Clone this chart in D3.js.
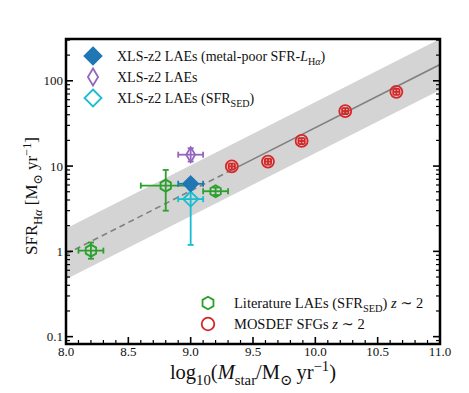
<!DOCTYPE html>
<meta charset="utf-8">
<script src="https://d3js.org/d3.v7.min.js"></script>
<style>
  body { margin: 0; background: #fff; }
  text { font-family: "Liberation Serif", "DejaVu Serif", serif; fill: #111; }
</style>
<div id="chart"></div>
<script>
    // data
    // MOSDEF SFGs z~2
    const mosdefMass = [9.33, 9.62, 9.89, 10.24, 10.65];
    const mosdefSfr = [9.9, 11.3, 19.7, 44.2, 74.3];
    const mosdefMassErr = [0.025, 0.025, 0.025, 0.025, 0.025];
    const mosdefSfrLo = [9.1, 10.4, 18.1, 40.7, 68.4];
    const mosdefSfrHi = [10.7, 12.2, 21.3, 47.9, 80.5];

    // Literature LAEs (SFR_SED)
    const litMass = [8.2, 8.8, 9.2];
    const litSfr = [1.02, 5.9, 5.07];
    const litMassErr = [0.1, 0.2, 0.1];
    const litSfrLo = [0.82, 3.0, 4.57];
    const litSfrHi = [1.27, 9.0, 5.6];

    // XLS-z2 LAEs
    const xlsMass = [9.0];
    const xlsMassErr = [0.1];
    const xlsSfr = [13.6];
    const xlsSfrLo = [11.3];
    const xlsSfrHi = [16.2];
    // metal-poor SFR-L_Ha
    const xlsMpSfr = [6.2];
    const xlsMpSfrLo = [5.5];
    const xlsMpSfrHi = [7.0];
    // SFR_SED
    const xlsSedSfr = [4.1];
    const xlsSedSfrLo = [1.19];
    const xlsSedSfrHi = [5.3];

    // main sequence fit and its scatter band
    const fitMass = [8.0, 9.3, 11.0];
    const fitSfr = [0.93, 8.55, 155];
    const bandMass = [8.0, 11.0];
    const bandLo = [0.47, 78];
    const bandHi = [1.86, 310];

    const xTicks = [8.0, 8.5, 9.0, 9.5, 10.0, 10.5, 11.0];
    const yTicks = [0.1, 1, 10, 100];

    const W = 469, H = 393;
    const box = {left: 66, right: 440, top: 39, bottom: 344};

    const svg = d3.select("#chart").append("svg")
        .attr("width", W).attr("height", H);

    const x = d3.scaleLinear().domain([8, 11]).range([box.left, box.right]);
    const y = d3.scaleLog().domain([0.082, 309]).range([box.bottom, box.top]);

    svg.append("clipPath").attr("id", "clip")
      .append("rect").attr("x", box.left).attr("y", box.top)
        .attr("width", box.right - box.left).attr("height", box.bottom - box.top);

    const plot = svg.append("g").attr("clip-path", "url(#clip)");

    // shaded band
    plot.append("path")
      .datum(bandMass.map((m, i) => ({m, lo: bandLo[i], hi: bandHi[i]})))
      .attr("fill", "#d4d4d4")
      .attr("d", d3.area().x(d => x(d.m)).y0(d => y(d.lo)).y1(d => y(d.hi)));

    // fit line: dashed below the MOSDEF mass range, solid above
    const fitLine = d3.line().x(d => x(d.m)).y(d => y(d.s));
    const fit = fitMass.map((m, i) => ({m, s: fitSfr[i]}));
    plot.append("path").datum(fit.slice(0, 2))
      .attr("fill", "none").attr("stroke", "#808080").attr("stroke-width", 1.6)
      .attr("stroke-dasharray", "6,4").attr("d", fitLine);
    plot.append("path").datum(fit.slice(1))
      .attr("fill", "none").attr("stroke", "#808080").attr("stroke-width", 1.6)
      .attr("d", fitLine);

    // marker shapes
    function markerPath(kind, s) {
      if (kind == "D") return `M0,${-s}L${s},0L0,${s}L${-s},0Z`;
      if (kind == "d") return `M0,${-s}L${s * 0.6},0L0,${s}L${-s * 0.6},0Z`;
      if (kind == "h") {
        const p = d3.range(6).map(k => {
          const a = Math.PI / 3 * k - Math.PI / 2;
          return [s * Math.cos(a), s * Math.sin(a)];
        });
        return "M" + p.join("L") + "Z";
      }
      return d3.arc()({innerRadius: 0, outerRadius: s, startAngle: 0, endAngle: 2 * Math.PI});
    }

    function drawSeries(opt) {
      const g = svg.append("g");
      const data = opt.mass.map((m, i) => ({
        m, s: opt.sfr[i], me: opt.massErr[i], lo: opt.lo[i], hi: opt.hi[i]
      }));
      const cap = opt.cap || 3;
      data.forEach(d => {
        const cx = x(d.m), cy = y(d.s);
        const e = g.append("g").attr("stroke", opt.color).attr("stroke-width", opt.ew || 1.8);
        e.append("line").attr("x1", x(d.m - d.me)).attr("x2", x(d.m + d.me)).attr("y1", cy).attr("y2", cy);
        e.append("line").attr("x1", cx).attr("x2", cx).attr("y1", y(d.lo)).attr("y2", y(d.hi));
        [x(d.m - d.me), x(d.m + d.me)].forEach(px =>
          e.append("line").attr("x1", px).attr("x2", px).attr("y1", cy - cap).attr("y2", cy + cap));
        [y(d.lo), y(d.hi)].forEach(py =>
          e.append("line").attr("x1", cx - cap).attr("x2", cx + cap).attr("y1", py).attr("y2", py));
        g.append("path")
          .attr("transform", `translate(${cx},${cy})`)
          .attr("d", markerPath(opt.kind, opt.size))
          .attr("fill", opt.filled ? opt.color : "none")
          .attr("stroke", opt.color).attr("stroke-width", opt.sw || 1.8);
      });
    }

    drawSeries({mass: litMass, sfr: litSfr, massErr: litMassErr, lo: litSfrLo, hi: litSfrHi,
      color: "#2ca02c", kind: "h", size: 6});
    drawSeries({mass: mosdefMass, sfr: mosdefSfr, massErr: mosdefMassErr, lo: mosdefSfrLo, hi: mosdefSfrHi,
      color: "#d62728", kind: "o", size: 6, cap: 3});
    drawSeries({mass: xlsMass, sfr: xlsSfr, massErr: xlsMassErr, lo: xlsSfrLo, hi: xlsSfrHi,
      color: "#9467bd", kind: "d", size: 7.5});
    drawSeries({mass: xlsMass, sfr: xlsSedSfr, massErr: xlsMassErr, lo: xlsSedSfrLo, hi: xlsSedSfrHi,
      color: "#17becf", kind: "D", size: 7.5});
    drawSeries({mass: xlsMass, sfr: xlsMpSfr, massErr: xlsMassErr, lo: xlsMpSfrLo, hi: xlsMpSfrHi,
      color: "#1f77b4", kind: "D", size: 7.5, filled: true});

    // ticks (inward, no top ticks)
    const ax = svg.append("g").attr("stroke", "#000");
    d3.range(80, 111).map(v => v / 10).forEach(v => {
      const major = xTicks.some(t => Math.abs(t - v) < 1e-6);
      ax.append("line").attr("x1", x(v)).attr("x2", x(v))
        .attr("y1", box.bottom).attr("y2", box.bottom - (major ? 7 : 4))
        .attr("stroke-width", major ? 1.6 : 1.2);
    });
    y.ticks().forEach(v => {
      const major = yTicks.some(t => Math.abs(Math.log10(t) - Math.log10(v)) < 1e-6);
      const len = major ? 7 : 4;
      ax.append("line").attr("x1", box.left).attr("x2", box.left + len)
        .attr("y1", y(v)).attr("y2", y(v)).attr("stroke-width", major ? 1.6 : 1.2);
      ax.append("line").attr("x1", box.right).attr("x2", box.right - len)
        .attr("y1", y(v)).attr("y2", y(v)).attr("stroke-width", major ? 1.6 : 1.2);
    });

    // frame
    svg.append("rect").attr("x", box.left).attr("y", box.top)
      .attr("width", box.right - box.left).attr("height", box.bottom - box.top)
      .attr("fill", "none").attr("stroke", "#000").attr("stroke-width", 2.5);

    // tick labels
    svg.append("g").selectAll("text").data(xTicks).join("text")
      .attr("x", d => x(d)).attr("y", box.bottom + 12)
      .attr("text-anchor", "middle").attr("font-size", 13)
      .text(d => d.toFixed(1));
    svg.append("g").selectAll("text").data(yTicks).join("text")
      .attr("x", box.left - 3).attr("y", d => y(d) + 4.5)
      .attr("text-anchor", "end").attr("font-size", 13)
      .text(d => d);

    // rich text helper: parts = [text, style] where style in "", "i", "sub", "sup", "subi"
    function rich(sel, parts, fs) {
      let shift = 0;
      parts.forEach(([t, st]) => {
        const ts = sel.append("tspan").text(t);
        let target = 0;
        if (st.includes("sub")) target = fs * 0.3;
        if (st.includes("sup")) target = -fs * 0.38;
        ts.attr("dy", target - shift);
        shift = target;
        if (st.includes("sub") || st.includes("sup")) ts.attr("font-size", fs * 0.72);
        if (st.includes("i")) ts.attr("font-style", "italic");
      });
      return sel;
    }

    // axis titles
    rich(svg.append("text").attr("x", 253).attr("y", 379)
      .attr("text-anchor", "middle").attr("font-size", 20.5),
      [["log", ""], ["10", "sub"], ["(", ""], ["M", "i"], ["star", "sub"], ["/M", ""], ["⊙", "sub"],
       ["\u2009yr", ""], ["−1", "sup"], [")", ""]], 20.5);

    rich(svg.append("text").attr("transform", "translate(37,196) rotate(-90)")
      .attr("text-anchor", "middle").attr("font-size", 17),
      [["SFR", ""], ["H", "sub"], ["α", "subi"], [" [M", ""], ["⊙", "sub"],
       [" yr", ""], ["−1", "sup"], ["]", ""]], 17);

    // legends
    const legTop = [
      {kind: "D", color: "#1f77b4", filled: true, y: 56,
       parts: [["XLS-z2 LAEs (metal-poor SFR-", ""], ["L", "i"], ["H", "sub"], ["α", "subi"], [")", ""]]},
      {kind: "d", color: "#9467bd", y: 77, parts: [["XLS-z2 LAEs", ""]]},
      {kind: "D", color: "#17becf", y: 98, parts: [["XLS-z2 LAEs (SFR", ""], ["SED", "sub"], [")", ""]]}
    ];
    legTop.forEach(l => {
      svg.append("path").attr("transform", `translate(93,${l.y})`)
        .attr("d", markerPath(l.kind, 8.5))
        .attr("fill", l.filled ? l.color : "none")
        .attr("stroke", l.color).attr("stroke-width", 1.8);
      rich(svg.append("text").attr("x", 117).attr("y", l.y + 4.5).attr("font-size", 14), l.parts, 14);
    });

    const legBot = [
      {kind: "h", color: "#2ca02c", y: 303,
       parts: [["Literature LAEs (SFR", ""], ["SED", "sub"], [") ", ""], ["z", "i"], ["\u2005∼\u20052", ""]]},
      {kind: "o", color: "#d62728", y: 324, parts: [["MOSDEF SFGs ", ""], ["z", "i"], ["\u2005∼\u20052", ""]]}
    ];
    legBot.forEach(l => {
      svg.append("path").attr("transform", `translate(208,${l.y})`)
        .attr("d", markerPath(l.kind, 6.3))
        .attr("fill", "none").attr("stroke", l.color).attr("stroke-width", 1.8);
      rich(svg.append("text").attr("x", 234).attr("y", l.y + 4.5).attr("font-size", 14.5), l.parts, 14.5);
    });
</script>
